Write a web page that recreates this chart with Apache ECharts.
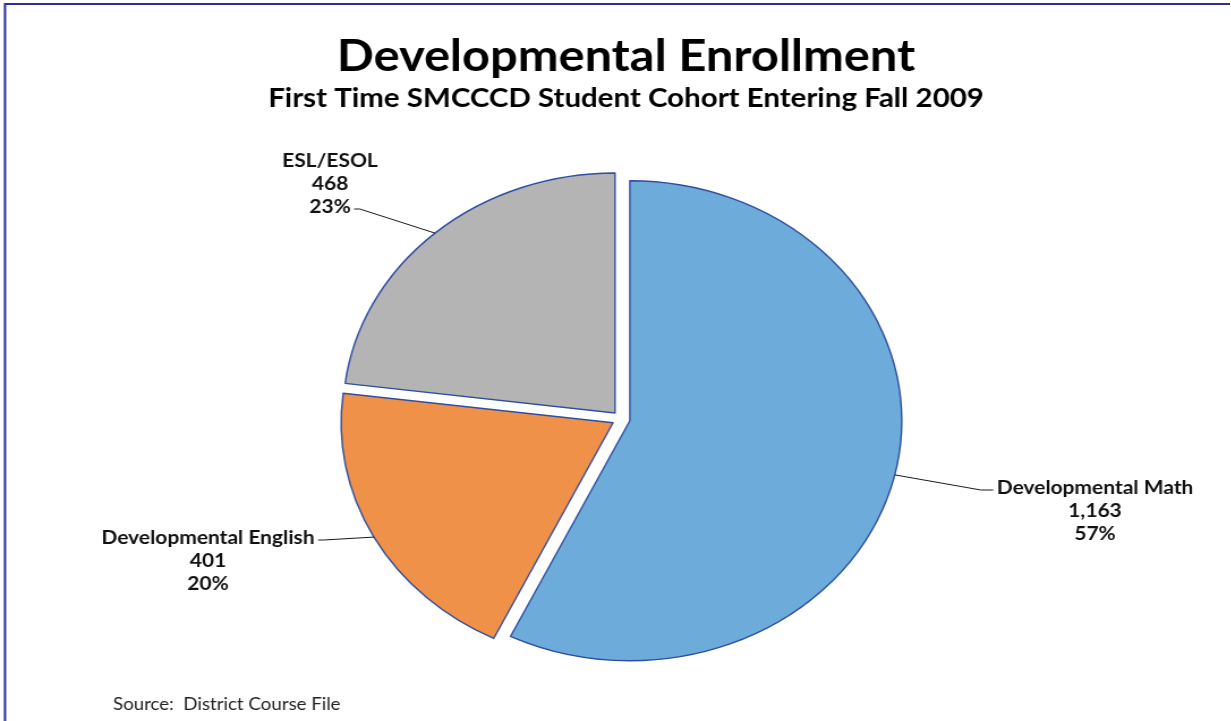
<!DOCTYPE html>
<html>
<head>
<meta charset="utf-8">
<script src="https://cdn.jsdelivr.net/npm/echarts@6/dist/echarts.min.js"></script>
<style>
  html, body { margin: 0; padding: 0; background: #ffffff; overflow: hidden; }
  #wrap { position: relative; width: 1231px; height: 721px; overflow: hidden; background: #fff; }
  #chart { position: absolute; left: 0; top: 0; height: 721px; transform-origin: 0 0; }
</style>
</head>
<body>
<div id="wrap"><div id="chart"></div></div>
<script>
// ---- data ----
const categories = ['Developmental Math', 'Developmental English', 'ESL/ESOL'];
const values = [1163, 401, 468];
const sliceColors = ['#6DABDB', '#F0914A', '#B4B4B4'];
const titleText = 'Developmental Enrollment';
const subtitleText = 'First Time SMCCCD Student Cohort Entering Fall 2009';
const sourceText = 'Source:  District Course File';

// ---- layout (the original picture is stretched horizontally, so the whole chart is) ----
const SX = 1.133;
const W = 1231 / SX;
const CX = 621 / SX, CY = 419, R = 240, OFF = 8;
const FONT = 'Lato, "Open Sans", sans-serif';
const LH = 23;
const LABEL_FS = 18.5;
const LABEL_SPEC = [
  { x: 1095 / SX, y: 476.5, side: 'left', line: 0 },
  { x: 208 / SX, y: 526.5, side: 'right', line: 0 },
  { x: 330 / SX, y: 149.5, side: 'right', line: 2 }
];

const el = document.getElementById('chart');
el.style.width = W + 'px';
el.style.transform = 'scaleX(' + SX + ')';

const total = values.reduce((a, b) => a + b, 0);
const midAngles = [];
(function () { let acc = 0; values.forEach(v => { midAngles.push((acc + v / 2) / total * Math.PI * 2); acc += v; }); })();

const mctx = document.createElement('canvas').getContext('2d');
mctx.font = 'bold ' + LABEL_FS + 'px ' + FONT;

const common = {
  type: 'pie',
  radius: R,
  startAngle: 90,
  clockwise: true,
  silent: true,
  emphasis: { disabled: true }
};

// one exploded slice per series: each series is pushed out along its slice's mid-angle
const sliceSeries = categories.map((name, i) => Object.assign({}, common, {
  center: [CX + OFF * Math.sin(midAngles[i]), CY - OFF * Math.cos(midAngles[i])],
  label: { show: false },
  labelLine: { show: false },
  data: categories.map((n, j) => ({
    name: n,
    value: values[j],
    itemStyle: j === i
      ? { color: sliceColors[j], borderColor: '#2F4EA2', borderWidth: 1.4 }
      : { color: 'rgba(0,0,0,0)', borderWidth: 0 }
  }))
}));

const labelSeries = Object.assign({}, common, {
  center: [CX, CY],
  percentPrecision: 0,
  z: 3,
  itemStyle: { color: 'rgba(0,0,0,0)', borderWidth: 0 },
  label: {
    show: true,
    position: 'outside',
    formatter: p => [p.name, p.value.toLocaleString('en-US'), Math.round(p.percent) + '%'].join('\n'),
    fontFamily: FONT,
    fontWeight: 'bold',
    fontSize: LABEL_FS,
    lineHeight: LH,
    color: '#111',
    align: 'center'
  },
  labelLine: { show: true, lineStyle: { color: '#1a1a1a', width: 1 } },
  labelLayout: function (params) {
    const i = params.dataIndex;
    const s = LABEL_SPEC[i];
    const mid = midAngles[i];
    const ux = Math.sin(mid), uy = -Math.cos(mid);
    const p0 = [CX + (R + OFF) * ux, CY + (R + OFF) * uy];
    const lines = params.text.split('\n');
    const w = mctx.measureText(lines[s.line]).width;
    const ey = s.y + LH * s.line + LH / 2 + 2;
    let end, elbow;
    if (s.side === 'left') {
      end = [s.x - w / 2 - 3, ey];
      elbow = [end[0] - 11, ey];
    } else {
      end = [s.x + w / 2 + 3, ey];
      elbow = [end[0] + 5, ey];
    }
    return { x: s.x, y: s.y, align: 'center', verticalAlign: 'top', labelLinePoints: [p0, elbow, end] };
  },
  data: categories.map((n, j) => ({ name: n, value: values[j] }))
});

const chart = echarts.init(el);
chart.setOption({
  backgroundColor: 'transparent',
  animation: false,
  graphic: [
    { type: 'rect', shape: { x: 5 / SX, y: 4, width: 1260, height: 760 }, style: { fill: 'none', stroke: '#2B2F96', lineWidth: 2 } },
    { type: 'text', x: 626 / SX, y: 57, style: { text: titleText, font: 'bold 43px ' + FONT, fill: '#000', textAlign: 'center', textVerticalAlign: 'middle' } },
    { type: 'text', x: 626 / SX, y: 99, style: { text: subtitleText, font: 'bold 26px ' + FONT, fill: '#000', textAlign: 'center', textVerticalAlign: 'middle' } },
    { type: 'text', x: 113 / SX, y: 705, style: { text: sourceText, font: '16.5px ' + FONT, fill: '#222', textAlign: 'left', textVerticalAlign: 'middle' } }
  ],
  series: sliceSeries.concat([labelSeries])
});
</script>
</body>
</html>
